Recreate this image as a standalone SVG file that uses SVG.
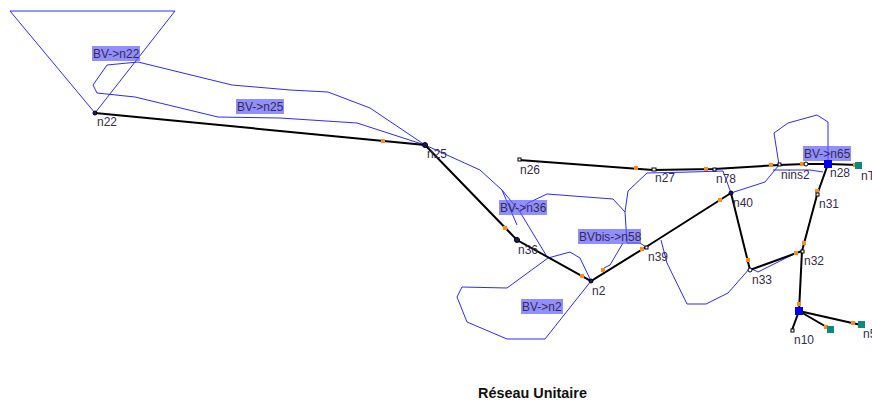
<svg xmlns="http://www.w3.org/2000/svg" width="872" height="403" viewBox="0 0 872 403">
<style>
.b{fill:none;stroke:#2a2aff;stroke-width:1}
.p{fill:none;stroke:#000;stroke-width:2}
.o{fill:#ff8c14}
.h{fill:#5a5aff;fill-opacity:.68}
.t{font-family:"Liberation Sans",Arial,sans-serif;font-size:12px;fill:#3a2a4a}
.n{fill:#fff;stroke:#000;stroke-width:1}
.d{fill:#1a1a6a;stroke:#000;stroke-width:1}
.g{fill:#0a8a80}
.q{fill:#0000f0}
</style>
<rect width="872" height="403" fill="#fff"/>
<g id="basins">
<polygon class="b" points="10,11 175,11 95,113"/>
<polyline class="b" points="425,145 370,108 328,92 290,90 232,85 138,62 107,65 93,85 97,93 135,97 218,117 280,118 357,123 425,145"/>
<polyline class="b" points="425,145 480,170 502,190 520,212 546,255"/>
<polyline class="b" points="502,190 517,225"/>
<polyline class="b" points="520,212 528,203 547,194 613,199 625,212 628,191 647,173 691,172 723,171 731,193 765,182 779,165 774,133 788,123 817,115 828,122 828,163"/>
<polyline class="b" points="625,212 627,243 640,243 646,247"/>
<polyline class="b" points="623,243 610,265 604,268"/>
<polyline class="b" points="591,281 545,339 507,339 467,322 457,297 462,287 507,288 548,258 570,252 580,258 591,281"/>
<polyline class="b" points="661,240 667,263 687,304 706,304 728,293 750,268 758,272 796,253"/>
<polyline class="b" points="773,170 810,170 823,172"/>
<polyline class="b" points="817,195 828,163"/>
</g>
<g id="connectors">
<polyline class="p" points="95,113 425,145 517,240 591,281 646,247 731,193 750,270 802,251 817,195 828,164"/>
<polyline class="p" points="519,160 653,170 714,169 779,165 806,164 828,164 859,165"/>
<polyline class="p" points="802,251 799,311 792,330"/>
<polyline class="p" points="799,311 830,329"/>
<polyline class="p" points="799,311 861,325"/>
</g>
<g id="flow-marks">
<rect class="o" x="381" y="139" width="4" height="4"/><rect class="o" x="503" y="226" width="4" height="4"/><rect class="o" x="580" y="274" width="4" height="4"/><rect class="o" x="601" y="268" width="4" height="4"/><rect class="o" x="640" y="247" width="4" height="4"/><rect class="o" x="634" y="166" width="4" height="4"/><rect class="o" x="704" y="167" width="4" height="4"/><rect class="o" x="718" y="198" width="4" height="4"/><rect class="o" x="769" y="163" width="4" height="4"/><rect class="o" x="800" y="162" width="4" height="4"/><rect class="o" x="853" y="163" width="4" height="4"/><rect class="o" x="815" y="189" width="4" height="4"/><rect class="o" x="746" y="258" width="4" height="4"/><rect class="o" x="794" y="251" width="4" height="4"/><rect class="o" x="802" y="241" width="4" height="4"/><rect class="o" x="797" y="302" width="4" height="4"/><rect class="o" x="824" y="325" width="4" height="4"/><rect class="o" x="851" y="321" width="4" height="4"/>
</g>
<g id="n22"><circle class="d" cx="95" cy="113" r="2"/><text class="t" x="97" y="126">n22</text></g>
<g id="n25"><circle class="d" cx="425" cy="145" r="2.5"/><text class="t" x="427" y="158">n25</text></g>
<g id="n36"><circle class="d" cx="517" cy="240" r="2.5"/><text class="t" x="518" y="254">n36</text></g>
<g id="n2"><circle class="d" cx="591" cy="281" r="2"/><text class="t" x="592" y="295">n2</text></g>
<g id="n39"><rect class="n" x="645" y="246" width="3" height="3"/><text class="t" x="648" y="261">n39</text></g>
<g id="n40"><circle class="d" cx="731" cy="193" r="2"/><text class="t" x="733" y="207">n40</text></g>
<g id="n33"><circle class="n" cx="750" cy="270" r="2"/><text class="t" x="752" y="284">n33</text></g>
<g id="n32"><rect class="n" x="801" y="250" width="3" height="3"/><text class="t" x="804" y="265">n32</text></g>
<g id="n31"><rect class="n" x="816" y="193" width="3" height="3"/><text class="t" x="819" y="208">n31</text></g>
<g id="nins2"><circle class="n" cx="806" cy="164" r="2"/><text class="t" x="781" y="179">nins2</text></g>
<g id="n78-node"><rect class="n" x="713" y="168" width="3" height="3"/><text class="t" x="716" y="183">n78</text></g>
<g id="n27"><rect class="n" x="652" y="168" width="4" height="3"/><text class="t" x="655" y="182">n27</text></g>
<g id="n26"><rect class="n" x="518" y="158" width="3" height="3"/><text class="t" x="520" y="174">n26</text></g>
<g id="junction"><rect class="n" x="778" y="163" width="3" height="3"/></g>
<g id="n10"><rect class="q" x="795" y="307" width="8" height="8"/><rect class="n" x="791" y="329" width="3" height="3"/><text class="t" x="794" y="344">n10</text></g>
<g id="nT"><rect class="g" x="855" y="162" width="7" height="7"/><text class="t" x="861" y="180">nT</text></g>
<g id="n5"><rect class="g" x="827" y="326" width="7" height="7"/><rect class="g" x="858" y="321" width="7" height="7"/><text class="t" x="863" y="338">n5</text></g>
<g id="BV-n22"><rect class="h" x="92" y="46" width="48" height="15"/><text class="t" x="93" y="58">BV-&gt;n22</text></g>
<g id="BV-n25"><rect class="h" x="236" y="99" width="48" height="15"/><text class="t" x="237" y="111">BV-&gt;n25</text></g>
<g id="BV-n36"><rect class="h" x="499" y="200" width="48" height="15"/><text class="t" x="500" y="212">BV-&gt;n36</text></g>
<g id="BVbis-n58"><rect class="h" x="578" y="229" width="63" height="15"/><text class="t" x="579" y="241">BVbis-&gt;n58</text></g>
<g id="BV-n2"><rect class="h" x="521" y="299" width="42" height="15"/><text class="t" x="522" y="311">BV-&gt;n2</text></g>
<g id="BV-n65"><rect class="h" x="803" y="146" width="48" height="15"/><text class="t" x="804" y="158">BV-&gt;n65</text></g>
<g id="n28"><rect class="q" x="824" y="160" width="8" height="8"/><text class="t" x="830" y="177">n28</text></g>
<text x="532.5" y="398" text-anchor="middle" style="font-family:'Liberation Sans',Arial,sans-serif;font-size:14.4px;font-weight:bold;fill:#111">Réseau Unitaire</text>
</svg>
